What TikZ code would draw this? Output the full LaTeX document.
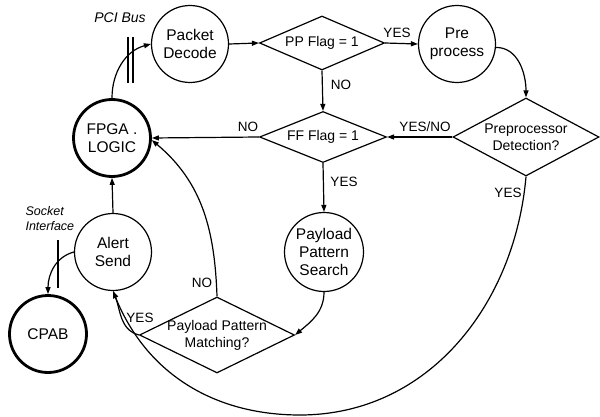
\documentclass[tikz,border=0pt]{standalone}
\usepackage{fontspec}
\setmainfont{Liberation Sans}
\usetikzlibrary{arrows.meta,shapes.geometric}
\begin{document}
\begin{tikzpicture}[x=1pt,y=1pt,
  circ/.style={circle,draw,line width=1.2pt,inner sep=0pt,minimum size=77pt,align=center,font=\fontsize{15.5}{18.5}\selectfont},
  thickcirc/.style={circ,line width=2.8pt,minimum size=77pt},
  dia/.style={diamond,draw,line width=1.2pt,inner sep=0pt},
  dtext/.style={font=\fontsize{14}{17}\selectfont,align=center,inner sep=0pt},
  lab/.style={font=\fontsize{13.5}{15}\selectfont,inner sep=0pt},
  arr/.style={line width=1.2pt,-{Triangle[length=7pt,width=5pt]}},
  bar/.style={line width=1.2pt},
  ]
\useasboundingbox (0,0) rectangle (600,-417);
% circles
\node[circ] (pd) at (190,-44) {Packet\\Decode};
\node[circ] (pre) at (457,-44) {Pre\\process};
\node[thickcirc] (fpga) at (112,-138) {FPGA .\\LOGIC};
\node[circ] (alert) at (113,-252) {Alert\\Send};
\node[thickcirc] (cpab) at (48,-334) {CPAB};
\node[circ,minimum size=79pt,font=\fontsize{15.5}{18}\selectfont] (pps) at (324,-252) {Payload\\Pattern\\Search};
% diamonds
\node[dia,minimum width=125pt,minimum height=54pt] (ppf) at (322,-43) {};
\node[dtext] (ppft) at (ppf) {PP Flag = 1};
\node[dia,minimum width=146pt,minimum height=78pt] (ppdet) at (526,-137) {};
\node[dtext] (ppdett) at (ppdet) {Preprocessor\\Detection?};
\node[dia,minimum width=127pt,minimum height=51pt] (fff) at (323,-137) {};
\node[dtext] (ffft) at (fff) {FF Flag = 1};
\node[dia,minimum width=155pt,minimum height=76pt] (ppm) at (217,-335) {};
\node[dtext] (ppmt) at (ppm) {Payload Pattern\\Matching?};
% connectors
\draw[arr] (fpga.north) to[out=90,in=195] (pd.west);
\draw[arr] (pd.east) -- (ppf.west);
\draw[arr] (ppf.east) -- (pre.west);
\draw[arr] (pre.-5) to[out=0,in=90] (ppdet.north);
\draw[arr] (ppdet.west) -- (fff.east);
\draw[arr] (ppf.south) -- (fff.north);
\draw[arr] (fff.west) -- (fpga.east);
\draw[arr] (fff.south) -- (pps.north);
\draw[arr] (pps.south) to[out=-90,in=40] (ppm.east);
\draw[arr] (ppm.north) to[out=92,in=-40] (fpga.-3);
\draw[arr] (ppm.west) to[out=165,in=-68] (alert.south);
\coordinate (bot) at (300,-415);
\draw[arr] (ppdet.south) to[out=-95,in=0] (bot) to[out=180,in=-68] (alert.south);
\draw[arr] (alert.north) -- (fpga.south);
\draw[arr] (alert.west) to[out=195,in=90] (cpab.north);
% bars
\draw[bar] (128,-37) -- (128,-83);
\draw[bar] (133,-37) -- (133,-83);
\draw[bar] (58,-240) -- (58,-288);
% labels
\node[font=\fontsize{14}{16}\selectfont\itshape] (pci) at (120,-18) {PCI Bus};
\node[font=\fontsize{12.5}{15}\selectfont\itshape,align=left,anchor=west] (sock) at (22,-219) {Socket\\Interface};
\node[lab] (l1) at (397,-33) {YES};
\node[lab] (l2) at (341,-85) {NO};
\node[lab] (l3) at (425,-127) {YES/NO};
\node[lab] (l4) at (248,-127) {NO};
\node[lab] (l5) at (344,-182) {YES};
\node[lab] (l6) at (508,-193) {YES};
\node[lab] (l7) at (202,-283) {NO};
\node[lab] (l8) at (140,-318) {YES};
\end{tikzpicture}
\end{document}
